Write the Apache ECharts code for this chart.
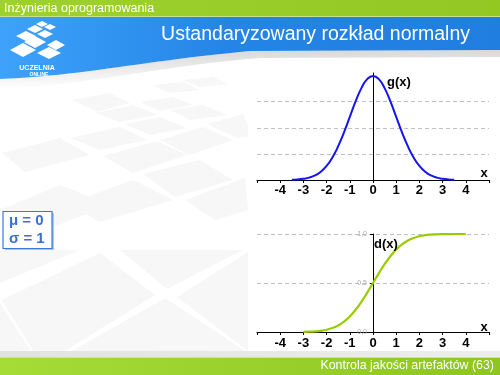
<!DOCTYPE html>
<html><head><meta charset="utf-8">
<script src="https://cdn.jsdelivr.net/npm/echarts@6/dist/echarts.min.js"></script>
<style>html,body{margin:0;padding:0;background:#fff}#c{width:500px;height:375px}</style>
</head><body><div id="c"></div>
<script>
// ---- data ----
var pdfX = [-3.5,-3.25,-3,-2.75,-2.5,-2.25,-2,-1.75,-1.5,-1.25,-1,-0.75,-0.5,-0.25,0,0.25,0.5,0.75,1,1.25,1.5,1.75,2,2.25,2.5,2.75,3,3.25,3.5];
var pdfY = [0.0009,0.0020,0.0044,0.0091,0.0175,0.0317,0.0540,0.0863,0.1295,0.1826,0.2420,0.3011,0.3521,0.3867,0.3989,0.3867,0.3521,0.3011,0.2420,0.1826,0.1295,0.0863,0.0540,0.0317,0.0175,0.0091,0.0044,0.0020,0.0009];
var cdfX = [-3,-2.75,-2.5,-2.25,-2,-1.75,-1.5,-1.25,-1,-0.75,-0.5,-0.25,0,0.25,0.5,0.75,1,1.25,1.5,1.75,2,2.25,2.5,2.75,3,3.25,3.5,3.75,4];
var cdfY = [0.0013,0.0030,0.0062,0.0122,0.0228,0.0401,0.0668,0.1056,0.1587,0.2266,0.3085,0.4013,0.5,0.5987,0.6915,0.7734,0.8413,0.8944,0.9332,0.9599,0.9772,0.9878,0.9938,0.9970,0.9987,0.9994,0.9998,0.9999,1.0];
var xTicks = [-4,-3,-2,-1,0,1,2,3,4];
var pdfGrid = [0.1,0.2,0.3];
var cdfTicks = [0,0.5,1];
var headerText = 'Inżynieria oprogramowania';
var titleText = 'Ustandaryzowany rozkład normalny';
var footerText = 'Kontrola jakości artefaktów (63)';
var paramLines = ['μ = 0','σ = 1'];

function pairs(xs, ys){ return xs.map(function(x,i){ return [x, ys[i]]; }); }

// sample a cubic bezier for decorative shapes
function bez(p0,p1,p2,p3,n){
  var out=[];
  for(var i=0;i<=n;i++){var t=i/n,u=1-t;
    out.push([u*u*u*p0[0]+3*u*u*t*p1[0]+3*u*t*t*p2[0]+t*t*t*p3[0],
              u*u*u*p0[1]+3*u*u*t*p1[1]+3*u*t*t*p2[1]+t*t*t*p3[1]]);}
  return out;
}
var edgeTop = bez([0,79],[80,76],[150,60],[250,51],24).concat([[500,50]]);
var edgeBot = bez([0,89],[80,86],[160,66],[260,58],24).concat([[500,57]]);

var tileColor = '#f7f7f7';
var tiles = [
 [[72,100],[110,93],[130,103],[97,112]],
 [[95,113],[133,105],[157,115],[120,122]],
 [[140,102],[173,97],[193,105],[160,111]],
 [[152,85],[183,82],[200,90],[170,93]],
 [[182,80],[213,77],[227,84],[200,87]],
 [[170,110],[203,105],[227,115],[190,120]],
 [[125,124],[160,117],[187,128],[150,135]],
 [[70,138],[120,127],[147,140],[100,150]],
 [[2,153],[60,138],[90,155],[25,172]],
 [[103,156],[157,141],[187,155],[133,173]],
 [[160,140],[203,127],[233,140],[189,155]],
 [[207,124],[243,114],[248,125],[248,137],[237,138]],
 [[143,174],[200,160],[233,180],[175,197]],
 [[0,210],[60,185],[110,205],[40,232]],
 [[67,204],[133,180],[173,200],[100,222]],
 [[185,200],[245,178],[248,210],[215,220]],
 [[0,250],[80,250],[0,283]],
 [[2,300],[100,253],[155,295],[65,351],[33,351]],
 [[120,250],[243,250],[167,289]],
 [[177,297],[248,252],[248,351]],
 [[72,351],[165,298],[245,351]],
 [[0,303],[31,351],[0,351]]
];

var graphics = [];
tiles.forEach(function(t){
  graphics.push({type:'polygon', z:-100, silent:true, shape:{points:t}, style:{fill:tileColor}});
});
graphics.push({type:'rect', z:-90, silent:true, shape:{x:249,y:64,width:251,height:288}, style:{fill:'#ffffff'}});
// grey swoosh under blue band
graphics.push({type:'polygon', z:-80, silent:true, shape:{points:edgeTop.concat(edgeBot.slice().reverse())},
  style:{fill:{type:'linear',x:0,y:0,x2:0,y2:1,colorStops:[{offset:0,color:'#d9d9d9'},{offset:1,color:'#ffffff'}]}}});
// blue band
graphics.push({type:'polygon', z:-70, silent:true, shape:{points:[[0,17],[500,17]].concat(edgeTop.slice().reverse())},
  style:{fill:{type:'linear',x:0,y:0,x2:1,y2:0,colorStops:[{offset:0,color:'#3ea2fb'},{offset:0.45,color:'#2585e6'},{offset:1,color:'#1f7ee0'}]}}});
// top green bar
graphics.push({type:'rect', z:-60, silent:true, shape:{x:0,y:0,width:500,height:17},
  style:{fill:{type:'linear',x:0,y:0,x2:1,y2:0,colorStops:[{offset:0,color:'#9ed12f'},{offset:1,color:'#93c823'}]}}});
graphics.push({type:'rect', z:-59, silent:true, shape:{x:0,y:16,width:500,height:1}, style:{fill:'#c4e38a'}});
graphics.push({type:'text', z:-50, silent:true, style:{text:headerText, x:4, y:9, fill:'#ffffff', font:'12.5px "Liberation Sans", Arial, sans-serif', textVerticalAlign:'middle'}});
graphics.push({type:'text', z:-50, silent:true, style:{text:titleText, x:470, y:35, fill:'#ffffff', font:'19.5px "Liberation Sans", Arial, sans-serif', textAlign:'right', textVerticalAlign:'middle'}});
// logo
var logo = [
 [[10,50],[23,43],[36,50],[23,57]],
 [[37,53],[49,47],[61,53],[49,59]],
 [[24,42],[35,36],[46,42],[35,48]],
 [[47,45],[56,40],[65,45],[56,50]],
 [[16,36],[26,31],[36,36],[26,41]],
 [[37,34],[45,30],[53,34],[45,38]],
 [[27,29],[35,25],[43,29],[35,33]],
 [[44,27],[50,24],[56,27],[50,30]],
 [[36,24],[42,21],[48,24],[42,27]]
];
logo.forEach(function(t){
  graphics.push({type:'polygon', z:-40, silent:true, shape:{points:t}, style:{fill:'#ffffff'}});
});
graphics.push({type:'text', z:-40, silent:true, style:{text:'UCZELNIA', x:37, y:68, fill:'#ffffff', font:'bold 7px "Liberation Sans", Arial, sans-serif', textAlign:'center', textVerticalAlign:'middle'}});
graphics.push({type:'text', z:-40, silent:true, style:{text:'ONLINE', x:39, y:74.5, fill:'#ffffff', font:'bold 5px "Liberation Sans", Arial, sans-serif', textAlign:'center', textVerticalAlign:'middle'}});
// bottom grey strip + green bar
graphics.push({type:'rect', z:-60, silent:true, shape:{x:0,y:351,width:500,height:6},
  style:{fill:{type:'linear',x:0,y:0,x2:1,y2:0,colorStops:[{offset:0,color:'#e2e2e2'},{offset:1,color:'#ededed'}]}}});
graphics.push({type:'rect', z:-60, silent:true, shape:{x:0,y:357,width:500,height:18},
  style:{fill:{type:'linear',x:0,y:0,x2:1,y2:0,colorStops:[{offset:0,color:'#a5dc36'},{offset:1,color:'#8ec520'}]}}});
graphics.push({type:'rect', z:-59, silent:true, shape:{x:0,y:357,width:500,height:1}, style:{fill:'#c8ea8a'}});
graphics.push({type:'text', z:-50, silent:true, style:{text:footerText, x:494, y:366, fill:'#ffffff', font:'12.4px "Liberation Sans", Arial, sans-serif', textAlign:'right', textVerticalAlign:'middle'}});
// parameter box
graphics.push({type:'rect', z:-30, silent:true, shape:{x:5,y:213,width:49,height:37}, style:{fill:'#a9c6f2'}});
graphics.push({type:'rect', z:-29, silent:true, shape:{x:3,y:211.5,width:49,height:37}, style:{fill:'#ffffff', stroke:'#3a78d8', lineWidth:1.2}});
graphics.push({type:'text', z:-28, silent:true, style:{text:paramLines[0], x:9, y:221, fill:'#3a6fd6', font:'bold 15px "Liberation Sans", Arial, sans-serif', textVerticalAlign:'middle'}});
graphics.push({type:'text', z:-28, silent:true, style:{text:paramLines[1], x:9, y:239, fill:'#3a6fd6', font:'bold 15px "Liberation Sans", Arial, sans-serif', textVerticalAlign:'middle'}});
// chart labels
var lblFont = 'bold 13px "Liberation Sans", Arial, sans-serif';
graphics.push({type:'text', z:10, silent:true, style:{text:'g(x)', x:387, y:82, fill:'#000', font:lblFont, textVerticalAlign:'middle'}});
graphics.push({type:'text', z:10, silent:true, style:{text:'x', x:484, y:173, fill:'#000', font:lblFont, textAlign:'center', textVerticalAlign:'middle'}});
graphics.push({type:'text', z:10, silent:true, style:{text:'d(x)', x:374, y:244, fill:'#000', font:lblFont, textVerticalAlign:'middle'}});
graphics.push({type:'text', z:10, silent:true, style:{text:'x', x:484, y:327, fill:'#000', font:lblFont, textAlign:'center', textVerticalAlign:'middle'}});

var xLabelFont = {fontFamily:'"Liberation Sans", Arial, sans-serif', fontWeight:'bold', fontSize:13, color:'#000'};
function xAxisCfg(gi, margin){
  return {type:'value', gridIndex:gi, min:-5, max:5, interval:1,
    axisLine:{onZero:false, lineStyle:{color:'#000', width:1}},
    axisTick:{show:true, length:3, lineStyle:{color:'#000'}},
    splitLine:{show:false},
    axisLabel:Object.assign({margin:margin, formatter:function(v){ return xTicks.indexOf(v) >= 0 ? String(v) : ''; }}, xLabelFont)};
}

var chart = echarts.init(document.getElementById('c'), null, {renderer:'canvas'});
chart.setOption({
  animation:false,
  backgroundColor:'#ffffff',
  graphic:{elements:graphics},
  grid:[
    {left:257, width:232, top:73, height:107},
    {left:257, width:232, top:234, height:98}
  ],
  xAxis:[xAxisCfg(0, 4), xAxisCfg(1, 5)],
  yAxis:[
    {type:'value', gridIndex:0, min:0, max:0.41, position:'left', offset:-116,
      axisLine:{show:true, onZero:false, lineStyle:{color:'#000', width:1}},
      axisTick:{show:false}, axisLabel:{show:false}, splitLine:{show:false}},
    {type:'value', gridIndex:1, min:cdfTicks[0], max:cdfTicks[cdfTicks.length-1], interval:0.5, position:'left', offset:-116,
      axisLine:{show:true, onZero:false, lineStyle:{color:'#000', width:1}},
      axisTick:{show:true, length:3, lineStyle:{color:'#000'}},
      axisLabel:{show:true, margin:6, fontSize:7, color:'#aaaaaa', fontFamily:'"Liberation Sans", Arial, sans-serif',
        formatter:function(v){ return v.toFixed(1).replace('.', ','); }},
      splitLine:{show:true, lineStyle:{color:'#c0c0c0', type:[4,3], width:1}}}
  ],
  series:[
    {type:'line', xAxisIndex:0, yAxisIndex:0, data:pairs(pdfX, pdfY), smooth:true, showSymbol:false,
      lineStyle:{color:'#1414f0', width:2}, z:5,
      markLine:{silent:true, symbol:'none', label:{show:false},
        lineStyle:{color:'#c0c0c0', type:[4,3], width:1},
        data:pdfGrid.map(function(v){ return {yAxis:v}; })}},
    {type:'line', xAxisIndex:1, yAxisIndex:1, data:pairs(cdfX, cdfY), smooth:true, showSymbol:false,
      lineStyle:{color:'#99cc00', width:2.2}, z:5}
  ]
});
</script>
</body></html>
